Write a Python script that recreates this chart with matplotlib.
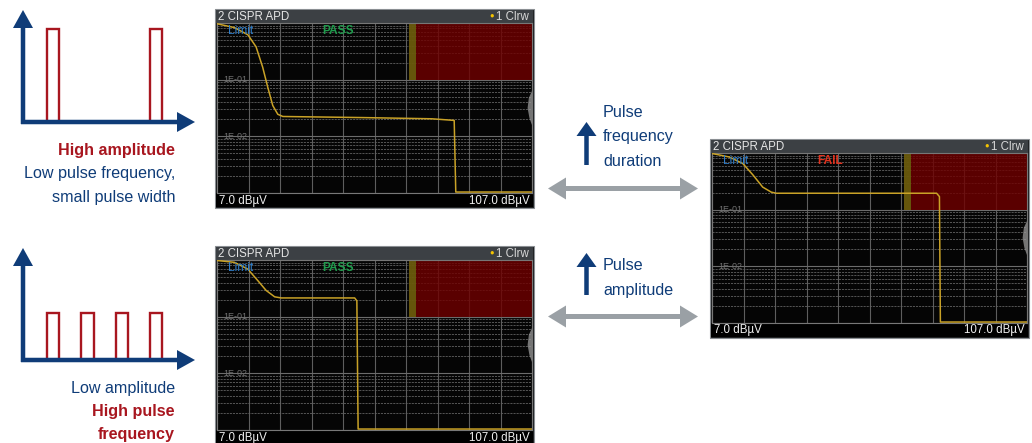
import numpy as np
import matplotlib
matplotlib.use("Agg")
import matplotlib.pyplot as plt
from matplotlib.patches import FancyArrow, Rectangle, Polygon
from matplotlib.ticker import LogLocator, NullFormatter

W, H = 1032, 443

# APD traces: level [dBuV] vs. probability
level_1 = [7.0, 12.5, 16.8, 19.4, 21.5, 23.1, 24.7, 26.3, 27.9, 53.9, 75.2, 82.3, 82.8, 107.0]
prob_1 = [0.97, 0.83, 0.62, 0.38, 0.166, 0.074, 0.035, 0.0245, 0.0224, 0.0214, 0.0204, 0.0191, 0.00104, 0.00104]

level_2 = [7.0, 12.5, 16.8, 20.0, 22.6, 25.3, 27.4, 50.7, 51.4, 51.8, 107.0]
prob_2 = [0.98, 0.91, 0.69, 0.43, 0.29, 0.224, 0.214, 0.214, 0.19, 0.00104, 0.00104]

level_3 = [7.0, 12.5, 16.8, 20.0, 23.1, 25.8, 27.4, 78.3, 79.2, 79.5, 107.0]
prob_3 = [0.98, 0.85, 0.65, 0.41, 0.25, 0.204, 0.195, 0.195, 0.17, 0.00104, 0.00104]

verdicts = ["PASS", "PASS", "FAIL"]
level_min, level_max = 7.0, 107.0
limit_start, limit_level = 68.0, 70.3
limit_prob = 0.1

# pulse sketches
pulse_start_1 = [0.7, 3.7]
pulse_amp_1 = [1.0, 1.0]
pulse_start_2 = [0.7, 1.7, 2.7, 3.7]
pulse_amp_2 = [0.5, 0.5, 0.5, 0.5]
pulse_width = 0.35

navy = "#0f3c78"
red = "#a8161f"
grey_arrow = "#9aa0a5"
label_font = ["Liberation Sans", "DejaVu Sans"]
screen_font = ["Liberation Sans", "DejaVu Sans"]
label_size = 11.6

fig = plt.figure(figsize=(W / 100, H / 100), dpi=100)
fig.patch.set_facecolor("white")


def px_axes(x0, y0, x1, y1, z):
    return fig.add_axes([x0 / W, 1 - y1 / H, (x1 - x0) / W, (y1 - y0) / H], zorder=z)


ax_bg = px_axes(0, 0, W, H, 1)
ax_bg.set_xlim(0, W)
ax_bg.set_ylim(H, 0)
ax_bg.axis("off")


def arrow(x, y, dx, dy, color, width, hw, hl):
    ax_bg.add_patch(FancyArrow(x, y, dx, dy, width=width, head_width=hw, head_length=hl,
                               length_includes_head=True, color=color, lw=0))


def pulse_diagram(y_axis, y_top, starts, amps, lines):
    ax_p = px_axes(23, y_top, 195, y_axis, 0)
    ax_p.bar(starts, amps, width=pulse_width, align="edge", fill=False,
             edgecolor=red, lw=1.7, clip_on=False)
    ax_p.set_xlim(0, 5)
    ax_p.set_ylim(0, 1.2)
    ax_p.axis("off")
    arrow(23, y_axis + 2, 0, y_top - y_axis - 2, navy, 4.5, 20, 18)
    arrow(21, y_axis, 195 - 21, 0, navy, 4.5, 20, 18)
    for i, (txt, col, wt) in enumerate(lines):
        ax_bg.text(175, y_axis + 28 + i * 23.5, txt, ha="right", va="center", color=col,
                   fontsize=label_size, fontweight=wt, family=label_font)


pulse_diagram(122, 10, pulse_start_1, pulse_amp_1,
              [("High amplitude", red, "bold"),
               ("Low pulse frequency,", navy, "normal"),
               ("small pulse width", navy, "normal")])
pulse_diagram(360, 248, pulse_start_2, pulse_amp_2,
              [("Low amplitude", navy, "normal"),
               ("High pulse", red, "bold"),
               ("frequency", red, "bold")])

# middle annotations
arrow(586.5, 165, 0, -43, navy, 4.5, 20, 14)
for i, txt in enumerate(["Pulse", "frequency", "duration"]):
    ax_bg.text(603, 112 + i * 24.5, txt, ha="left", va="center", color=navy,
               fontsize=label_size, family=label_font)
arrow(586.5, 295, 0, -42, navy, 4.5, 20, 14)
for i, txt in enumerate(["Pulse", "amplitude"]):
    ax_bg.text(603, 266 + i * 24.5, txt, ha="left", va="center", color=navy,
               fontsize=label_size, family=label_font)
for yy in (188.5, 316.5):
    arrow(623, yy, -75, 0, grey_arrow, 5, 22, 18)
    arrow(623, yy, 75, 0, grey_arrow, 5, 22, 18)


def draw_screen(x0, y_top, level, prob, verdict):
    ax_bg.add_patch(Rectangle((x0 - 1, y_top - 1), 319, 199, facecolor="#1a1c1e",
                              edgecolor="#8a8e92", lw=0.8))
    ax_bg.add_patch(Rectangle((x0, y_top), 317, 13, facecolor="#3c4044", lw=0))
    ax_bg.add_patch(Rectangle((x0, y_top + 183), 317, 14, facecolor="#000000", lw=0))
    ax_bg.text(x0 + 2, y_top + 6.8, "2 CISPR APD", ha="left", va="center", color="#e6e6e6",
               fontsize=8.3, family=screen_font)
    ax_bg.text(x0 + 313, y_top + 6.8, "1 Clrw", ha="right", va="center", color="#d8d8d8",
               fontsize=8.3, family=screen_font)
    ax_bg.text(x0 + 276, y_top + 6.5, "\u25cf", ha="center", va="center", color="#f5c400",
               fontsize=5.5, family=screen_font)
    ax_bg.text(x0 + 3, y_top + 190.5, "7.0 dB\u00b5V", ha="left", va="center", color="#f0f0f0",
               fontsize=8.3, family=screen_font)
    ax_bg.text(x0 + 314, y_top + 190.5, "107.0 dB\u00b5V", ha="right", va="center",
               color="#f0f0f0", fontsize=8.3, family=screen_font)

    ax = px_axes(x0 + 1, y_top + 13, x0 + 316, y_top + 183, 2)
    ax.set_facecolor("#050505")
    ax.set_yscale("log")
    ax.set_xlim(level_min, level_max)
    ax.set_ylim(1e-3, 1)
    ax.set_xticks(np.arange(level_min, level_max + 1, 10))
    ax.yaxis.set_major_locator(LogLocator(base=10))
    ax.yaxis.set_minor_locator(LogLocator(base=10, subs=np.arange(2, 10)))
    ax.yaxis.set_minor_formatter(NullFormatter())
    ax.grid(axis="x", which="major", color="#5e5e5e", lw=0.8, ls="-")
    ax.grid(axis="y", which="major", color="#6c6c6c", lw=0.8, ls="-")
    ax.grid(axis="y", which="minor", color="#626262", lw=0.6, ls=(0, (2.5, 1.2)))
    ax.tick_params(which="both", length=0, labelleft=False, labelbottom=False)
    for s in ax.spines.values():
        s.set_color("#777777")
        s.set_linewidth(0.8)

    ax.fill_between([limit_level, level_max], limit_prob, 1, color="#6e0000", alpha=0.82,
                    lw=0, zorder=2)
    ax.fill_between([limit_start, limit_level], limit_prob, 1, color="#6b5a0c", alpha=0.95,
                    lw=0, zorder=2)
    ax.plot(level, prob, color="#c9a227", lw=1.1, zorder=3)

    ax.text(9.0, 0.1, "1E-01", ha="left", va="center", color="#707070", fontsize=6.5,
            family=screen_font, zorder=4)
    ax.text(9.0, 0.01, "1E-02", ha="left", va="center", color="#707070", fontsize=6.5,
            family=screen_font, zorder=4)
    ax.text(0.035, 0.955, "Limit", transform=ax.transAxes, ha="left", va="center",
            color="#2d7cc8", fontsize=8.6, family=screen_font, zorder=4)
    vcol = "#1f9a4c" if verdict == "PASS" else "#e0321e"
    ax.text(0.335, 0.955, verdict, transform=ax.transAxes, ha="left", va="center",
            color=vcol, fontsize=8.6, fontweight="bold", family=screen_font, zorder=4)
    ax.add_patch(Polygon([(1.0, 0.40), (0.992, 0.44), (0.986, 0.50), (0.99, 0.56), (1.0, 0.60)],
                         closed=True, transform=ax.transAxes, facecolor="#9a9a9a",
                         alpha=0.75, lw=0, zorder=4))


draw_screen(216, 10, level_1, prob_1, verdicts[0])
draw_screen(216, 247, level_2, prob_2, verdicts[1])
draw_screen(711, 140, level_3, prob_3, verdicts[2])

fig.savefig("out.png", dpi=100, facecolor="white")
